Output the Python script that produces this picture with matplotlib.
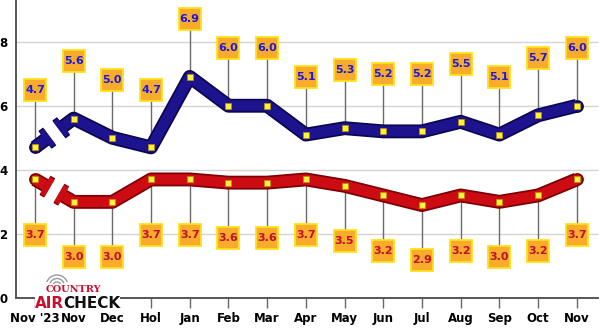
import matplotlib.pyplot as plt
import matplotlib.patheffects as pe
from matplotlib.patches import Arc

# chart data
months = ["Nov '23", "Nov", "Dec", "Hol", "Jan", "Feb", "Mar", "Apr",
          "May", "Jun", "Jul", "Aug", "Sep", "Oct", "Nov"]
blue_vals = [4.7, 5.6, 5.0, 4.7, 6.9, 6.0, 6.0, 5.1, 5.3, 5.2, 5.2, 5.5, 5.1, 5.7, 6.0]
red_vals = [3.7, 3.0, 3.0, 3.7, 3.7, 3.6, 3.6, 3.7, 3.5, 3.2, 2.9, 3.2, 3.0, 3.2, 3.7]
y_ticks = [0, 2, 4, 6, 8]

W, H = 600, 331
fig = plt.figure(figsize=(W / 100, H / 100), dpi=100)
ax = fig.add_axes([16 / W, 33 / H, (598 - 16) / W, 298 / H])

x = list(range(len(months)))
ax.set_xlim(-0.49, 14.55)
ax.set_ylim(0, 9.3)

for g in y_ticks[1:]:
    ax.axhline(g, color='#d4d4d4', lw=1, zorder=0)

for side in ['top', 'right']:
    ax.spines[side].set_visible(False)
for side in ['left', 'bottom']:
    ax.spines[side].set_color('#555555')
    ax.spines[side].set_linewidth(1.4)

ax.set_yticks(y_ticks)
ax.set_yticklabels([str(t) for t in y_ticks], fontsize=8.5, fontweight='bold')
ax.tick_params(axis='y', length=0, pad=6)
ax.set_xticks(x)
ax.set_xticklabels(months, fontsize=8.5, fontweight='bold')
ax.tick_params(axis='x', length=7, width=1, color='#666666', pad=3, direction='out')


def draw_series(vals, main, dark, txt_color, offset):
    x0, y0 = x[0], vals[0]
    x1, y1 = x[1], vals[1]

    def at(t):
        return x0 + t * (x1 - x0), y0 + t * (y1 - y0)

    stroke = [pe.Stroke(linewidth=10, foreground=dark), pe.Normal()]
    # round ends
    ax.plot([x[0], x[-1]], [vals[0], vals[-1]], ls='none', marker='o', ms=8,
            mfc=main, mec=dark, mew=1.2, zorder=2.9)
    # broken first segment
    lx, ly = at(0.32)
    ax.plot([x0, lx], [y0, ly], color=main, lw=7.5, solid_capstyle='butt',
            path_effects=stroke, zorder=3)
    rx, ry = at(0.68)
    ax.plot([rx] + x[1:], [ry] + vals[1:], color=main, lw=7.5,
            solid_capstyle='butt', solid_joinstyle='round',
            path_effects=stroke, zorder=3)
    # break caps
    for a, b in [(0.26, 0.38), (0.62, 0.74)]:
        ax_, ay_ = at(a)
        bx_, by_ = at(b)
        ax.plot([ax_, bx_], [ay_, by_], color=main, lw=14, solid_capstyle='butt',
                path_effects=[pe.Stroke(linewidth=16, foreground=dark), pe.Normal()],
                zorder=4)
    # points
    ax.plot(x, vals, ls='none', marker='s', ms=4, mfc='#fff23a', mec='#b89000',
            mew=0.5, zorder=6)
    # labels
    lab_y = [v + offset for v in vals]
    for xi, v, ly2 in zip(x, vals, lab_y):
        ax.plot([xi, xi], [v, ly2], color='#6a6a6a', lw=1, zorder=2)
    ax.plot(x, lab_y, ls='none', marker='s', ms=16, mfc='#f9ab2c', mec='#ffe21a',
            mew=1.3, zorder=7)
    for xi, v, ly2 in zip(x, vals, lab_y):
        ax.text(xi, ly2, f'{v:.1f}', ha='center', va='center', fontsize=8,
                fontweight='bold', color=txt_color, zorder=8)


draw_series(blue_vals, '#1d138f', '#0b0650', '#1a1ae0', 1.8)
draw_series(red_vals, '#cc0c12', '#7c0004', '#c0102a', -1.72)

# logo
for r in [4, 7.5, 11]:
    fig.add_artist(Arc((57 / W, 1 - 286 / H), 2 * r / W, 2 * r / H, theta1=35, theta2=145,
                       transform=fig.transFigure, color='#9a9a9a', lw=1))
fig.text(73 / W, 1 - 289 / H, 'COUNTRY', ha='center', va='center', fontsize=7,
         fontweight='bold', family='DejaVu Serif', color='#c8102e', zorder=5,
         bbox=dict(boxstyle='square,pad=0.02', fc='white', ec='none'))
fig.text(64 / W, 1 - 303.5 / H, 'AIR', ha='right', va='center', fontsize=11,
         fontweight='bold', color='#c8102e',
         bbox=dict(boxstyle='square,pad=0.02', fc='white', ec='none'))
fig.text(63 / W, 1 - 303.5 / H, 'CHECK', ha='left', va='center', fontsize=11,
         fontweight='bold', color='#111111',
         bbox=dict(boxstyle='square,pad=0.02', fc='white', ec='none'))

plt.savefig('out.png', dpi=100)
